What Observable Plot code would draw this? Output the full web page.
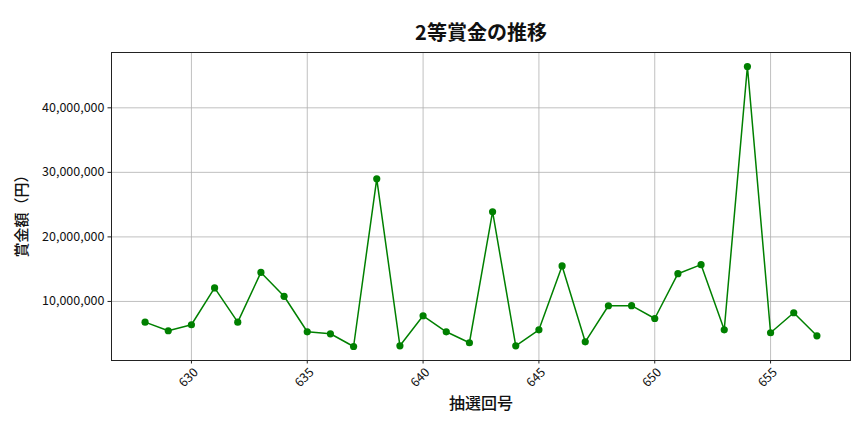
<!DOCTYPE html>
<html>
<head>
<meta charset="utf-8">
<script src="https://cdn.jsdelivr.net/npm/d3@7"></script>
<script src="https://cdn.jsdelivr.net/npm/@observablehq/plot@0.6"></script>
<style>
  html, body { margin: 0; padding: 0; background: #fff; }
  #chart { width: 864px; height: 432px; }
</style>
</head>
<body>
<div id="chart"></div>
<script>
const draws = [628,629,630,631,632,633,634,635,636,637,638,639,640,641,642,643,644,645,646,647,648,649,650,651,652,653,654,655,656,657];
const prizes = [6790000,5460000,6390000,12100000,6790000,14500000,10800000,5300000,4990000,3020000,29000000,3130000,7780000,5300000,3600000,23900000,3130000,5610000,15500000,3750000,9330000,9350000,7360000,14300000,15700000,5610000,46400000,5150000,8250000,4680000];
const xTicks = [630,635,640,645,650,655];
const yTicks = [10000000,20000000,30000000,40000000];
const title = "2等賞金の推移";
const xLabel = "抽選回号";
const yLabel = "賞金額（円）";

const data = draws.map((d, i) => ({draw: d, prize: prizes[i]}));
const fmt = d3.format(",");
const tickFont = '"Noto Sans CJK JP", sans-serif';

const chart = Plot.plot({
  width: 864,
  height: 432,
  marginTop: 52,
  marginBottom: 72,
  marginLeft: 111,
  marginRight: 14,
  style: {fontFamily: '"Noto Sans CJK JP", sans-serif', background: "#fff"},
  x: {domain: [626.55, 658.45]},
  y: {domain: [850000, 48570000]},
  marks: [
    Plot.gridX(xTicks, {stroke: "#b0b0b0", strokeOpacity: 1, strokeWidth: 0.8}),
    Plot.gridY(yTicks, {stroke: "#b0b0b0", strokeOpacity: 1, strokeWidth: 0.8}),
    Plot.axisY(yTicks, {tickSize: 3.5, tickFormat: () => "", label: null, stroke: "#222"}),
    Plot.text(yTicks, {y: d => d, frameAnchor: "left", dx: -7, textAnchor: "end", text: d => fmt(d), fontSize: 12.5, fontFamily: tickFont, fill: "#111"}),
    Plot.axisX(xTicks, {tickSize: 3.5, tickFormat: () => "", label: null, stroke: "#222"}),
    Plot.text(xTicks, {x: d => d, frameAnchor: "bottom", dy: 20, rotate: -45, text: d => String(d), fontSize: 12.5, fontFamily: tickFont, textAnchor: "middle", fill: "#111"}),
    Plot.frame({stroke: "#222", strokeWidth: 1}),
    Plot.line(data, {x: "draw", y: "prize", stroke: "green", strokeWidth: 1.5}),
    Plot.dot(data, {x: "draw", y: "prize", fill: "green", r: 3.6}),
    Plot.text([title], {frameAnchor: "top", dy: -27, text: d => d, fontSize: 20, fontWeight: "bold", fill: "#111"}),
    Plot.text([xLabel], {frameAnchor: "bottom", dy: 48, text: d => d, fontSize: 16, fontWeight: 500, fill: "#111"}),
    Plot.text([yLabel], {frameAnchor: "left", dx: -89, dy: 6, rotate: -90, textAnchor: "middle", text: d => d, fontSize: 15, fontWeight: 500, fill: "#111"})
  ]
});
document.getElementById("chart").appendChild(chart);
</script>
</body>
</html>
